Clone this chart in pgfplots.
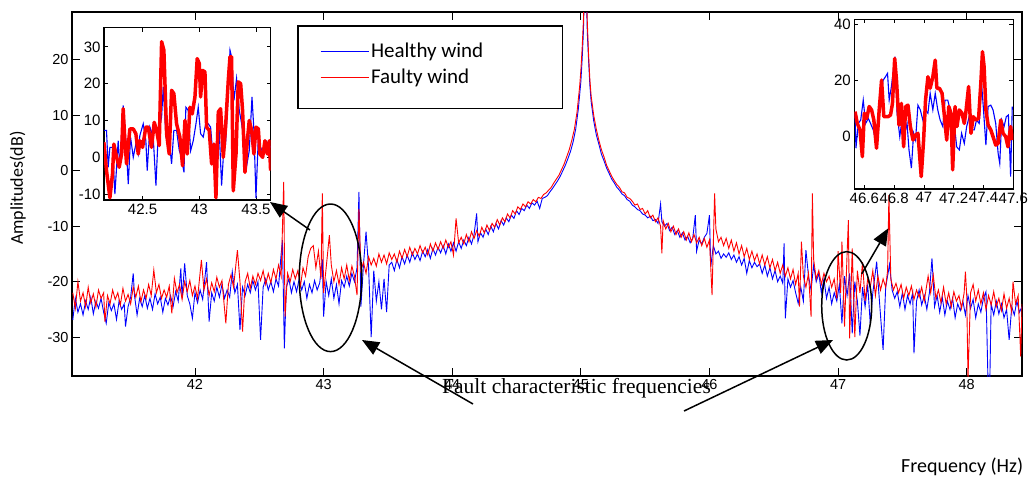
\documentclass[border=0pt]{standalone}
\usepackage{fontspec}
\setmainfont{Liberation Sans}
\newfontfamily\calib{Carlito}
\newfontfamily\timesf{Liberation Serif}
\usepackage{pgfplots}
\usepackage{pgfplotstable}
\pgfplotsset{compat=1.18}
\usetikzlibrary{arrows.meta}

% main spectrum, faulty wind (red)
\pgfplotstableread{
x y
41.05 -22.0
41.07 -24.8
41.09 -20.0
41.11 -23.5
41.13 -22.0
41.15 -24.5
41.17 -21.0
41.19 -23.8
41.21 -22.2
41.23 -24.6
41.25 -21.5
41.27 -23.0
41.29 -22.0
41.30 -27.2
41.32 -22.5
41.34 -24.0
41.36 -21.5
41.38 -23.2
41.40 -22.0
41.42 -24.2
41.44 -21.2
41.46 -23.5
41.48 -22.3
41.50 -24.0
41.52 -21.0
41.54 -22.8
41.56 -20.8
41.58 -23.6
41.60 -21.5
41.62 -23.0
41.64 -20.5
41.66 -22.5
41.68 -17.9
41.70 -22.0
41.72 -20.5
41.74 -23.0
41.76 -21.5
41.78 -22.8
41.80 -20.8
41.82 -25.7
41.84 -19.4
41.86 -22.0
41.88 -20.5
41.90 -23.2
41.92 -20.0
41.94 -21.8
41.96 -19.8
41.98 -22.5
42.00 -20.8
42.02 -23.0
42.05 -16.1
42.07 -21.5
42.09 -19.5
42.11 -22.5
42.13 -20.2
42.15 -21.8
42.17 -19.2
42.19 -21.0
42.21 -19.8
42.24 -27.5
42.26 -20.5
42.28 -18.8
42.30 -21.0
42.33 -14.3
42.35 -20.0
42.37 -29.0
42.39 -20.0
42.41 -18.5
42.43 -21.2
42.45 -19.0
42.47 -20.5
42.49 -18.5
42.51 -19.8
42.53 -18.0
42.55 -20.5
42.57 -18.5
42.59 -20.2
42.61 -17.8
42.63 -19.5
42.65 -17.0
42.67 -19.0
42.69 -2.0
42.70 -26.3
42.72 -18.5
42.74 -20.0
42.76 -17.8
42.78 -19.5
42.80 -18.0
42.82 -20.8
42.84 -17.5
42.86 -19.0
42.88 -15.5
42.90 -14.0
42.92 -13.5
42.94 -17.5
42.96 -14.5
42.98 -19.5
42.99 -4.1
43.00 -22.0
43.02 -17.5
43.045 -11.6
43.06 -17.0
43.08 -20.0
43.10 -18.0
43.12 -20.5
43.14 -17.5
43.16 -19.5
43.18 -17.0
43.20 -19.8
43.22 -17.2
43.24 -19.0
43.26 -22.4
43.275 -6.9
43.29 -18.0
43.31 -16.5
43.33 -18.5
43.35 -15.5
43.37 -17.0
43.39 -15.8
43.41 -17.2
43.43 -15.0
43.45 -16.5
43.47 -15.2
43.49 -16.8
43.51 -14.8
43.53 -16.0
43.55 -15.0
43.57 -16.5
43.59 -14.5
43.61 -15.8
43.63 -14.2
43.65 -15.5
43.67 -13.8
43.69 -15.2
43.71 -14.0
43.73 -15.0
43.75 -13.5
43.77 -14.8
43.79 -13.8
43.81 -15.2
43.83 -13.2
43.85 -14.5
43.87 -13.0
43.89 -14.2
43.91 -12.8
43.93 -14.0
43.95 -12.5
43.97 -13.8
43.99 -12.8
44.01 -15.2
44.03 -8.6
44.05 -13.0
44.07 -12.0
44.09 -13.2
44.11 -11.5
44.13 -12.8
44.15 -11.0
44.17 -12.2
44.19 -10.8
44.21 -11.8
44.23 -10.2
44.25 -11.2
44.27 -9.8
44.29 -10.8
44.31 -9.5
44.33 -10.2
44.35 -8.8
44.37 -9.8
44.39 -8.5
44.41 -9.2
44.43 -7.8
44.45 -8.5
44.47 -7.2
44.49 -7.8
44.51 -6.5
44.53 -7.0
44.55 -6.0
44.57 -6.5
44.59 -5.6
44.61 -6.0
44.63 -5.2
44.65 -5.6
44.67 -4.8
44.69 -5.0
44.71 -4.3
44.73 -4.0
44.75 -3.5
44.77 -3.0
44.79 -2.2
44.81 -1.5
44.83 -0.8
44.85 0.2
44.87 1.2
44.89 2.5
44.91 3.8
44.93 5.5
44.95 7.5
44.97 10.5
44.99 15.0
45.00 18.0
45.01 22.0
45.02 27.0
45.03 35.0
45.04 35.0
45.05 27.0
45.06 21.0
45.07 16.5
45.08 13.5
45.10 10.0
45.12 7.5
45.14 5.5
45.16 3.8
45.18 2.5
45.20 1.0
45.22 0.0
45.24 -1.0
45.26 -1.8
45.28 -2.5
45.30 -3.0
45.32 -3.8
45.34 -4.0
45.36 -4.8
45.38 -5.0
45.40 -5.5
45.42 -6.2
45.44 -6.0
45.46 -7.0
45.48 -6.8
45.50 -7.8
45.52 -7.2
45.54 -8.5
45.56 -8.0
45.58 -9.2
45.60 -8.5
45.62 -10.0
45.63 -14.9
45.64 -9.0
45.66 -10.5
45.68 -9.5
45.70 -11.0
45.72 -10.0
45.74 -11.5
45.76 -10.5
45.78 -12.0
45.80 -11.0
45.82 -12.5
45.84 -11.2
45.86 -12.8
45.88 -11.5
45.90 -13.0
45.92 -12.0
45.94 -13.5
45.96 -12.2
45.98 -13.8
46.00 -12.5
46.02 -22.4
46.04 -4.1
46.05 -10.5
46.07 -12.8
46.09 -12.0
46.11 -13.5
46.13 -12.2
46.15 -14.0
46.17 -12.5
46.19 -14.5
46.21 -13.0
46.23 -15.0
46.25 -13.5
46.27 -15.5
46.29 -14.0
46.31 -16.0
46.33 -14.5
46.35 -16.2
46.37 -15.0
46.39 -16.8
46.41 -15.2
46.43 -17.0
46.45 -15.5
46.47 -17.5
46.49 -16.0
46.51 -18.0
46.53 -16.5
46.55 -18.5
46.57 -17.0
46.59 -19.0
46.61 -17.5
46.63 -19.5
46.65 -17.8
46.67 -20.5
46.69 -18.5
46.70 -24.5
46.715 -12.8
46.73 -19.0
46.75 -21.0
46.77 -18.5
46.79 -26.3
46.80 -4.1
46.81 -16.0
46.83 -19.5
46.85 -18.0
46.87 -20.5
46.89 -18.5
46.91 -20.0
46.93 -19.0
46.95 -21.0
46.97 -19.5
46.99 -23.0
47.00 -14.5
47.02 -22.0
47.03 -12.8
47.05 -28.1
47.07 -15.0
47.08 -8.9
47.09 -30.2
47.11 -14.0
47.13 -30.0
47.15 -18.0
47.17 -22.0
47.19 -16.5
47.21 -23.5
47.23 -19.5
47.25 -21.0
47.27 -18.0
47.29 -22.5
47.31 -19.0
47.33 -21.5
47.35 -19.5
47.37 -21.0
47.385 -18.0
47.395 -4.4
47.41 -19.5
47.43 -21.5
47.45 -20.3
47.47 -22.0
47.49 -20.5
47.51 -23.0
47.53 -21.0
47.55 -22.5
47.57 -20.8
47.59 -23.2
47.61 -21.5
47.63 -22.8
47.65 -21.0
47.67 -23.5
47.70 -19.0
47.72 -22.0
47.74 -18.8
47.76 -23.0
47.78 -21.5
47.80 -23.8
47.82 -21.0
47.84 -24.0
47.86 -22.0
47.88 -24.5
47.90 -21.8
47.92 -23.5
47.94 -22.5
47.96 -24.8
47.98 -22.0
47.99 -18.2
48.00 -22.5
48.01 -37.5
48.03 -22.0
48.05 -20.5
48.07 -23.5
48.09 -21.5
48.11 -24.0
48.13 -22.0
48.15 -25.0
48.17 -22.5
48.19 -24.2
48.21 -21.8
48.23 -24.5
48.25 -23.0
48.27 -25.2
48.29 -22.2
48.31 -24.8
48.33 -23.0
48.35 -25.5
48.36 -20.0
48.38 -24.0
48.40 -22.5
48.42 -33.5
48.43 -24.0
}\faulty

% main spectrum, healthy wind (blue)
\pgfplotstableread{
x y
41.05 -26.9
41.07 -23.0
41.09 -25.5
41.11 -24.0
41.13 -26.0
41.15 -23.5
41.17 -25.0
41.19 -22.8
41.21 -25.8
41.23 -23.5
41.25 -24.8
41.27 -23.0
41.29 -25.5
41.31 -27.5
41.33 -23.8
41.35 -25.2
41.37 -24.0
41.39 -26.8
41.41 -23.5
41.43 -25.0
41.45 -24.0
41.46 -28.1
41.48 -24.5
41.50 -22.8
41.52 -18.5
41.53 -22.5
41.55 -26.0
41.57 -23.0
41.59 -24.5
41.61 -22.5
41.63 -24.8
41.65 -23.0
41.67 -25.0
41.69 -22.2
41.71 -24.0
41.73 -22.8
41.75 -25.5
41.77 -23.0
41.79 -24.2
41.81 -22.5
41.83 -24.5
41.85 -21.8
41.87 -23.5
41.89 -17.6
41.90 -23.0
41.92 -16.7
41.94 -22.5
41.96 -24.0
41.98 -26.6
42.00 -22.0
42.02 -23.8
42.04 -21.5
42.06 -23.2
42.09 -16.5
42.11 -27.2
42.13 -22.0
42.15 -23.5
42.17 -21.0
42.19 -22.8
42.21 -20.5
42.23 -23.0
42.25 -21.5
42.27 -22.8
42.29 -18.2
42.31 -22.0
42.33 -20.5
42.35 -28.7
42.37 -21.0
42.39 -22.5
42.41 -20.5
42.43 -22.0
42.45 -19.8
42.47 -21.5
42.49 -20.0
42.51 -30.5
42.53 -21.0
42.55 -19.5
42.57 -21.5
42.59 -20.0
42.61 -21.8
42.63 -19.5
42.65 -20.8
42.67 -15.0
42.68 -12.5
42.695 -32.0
42.71 -21.0
42.73 -19.5
42.75 -22.0
42.77 -20.0
42.79 -21.8
42.81 -19.5
42.83 -21.5
42.85 -20.0
42.87 -23.0
42.89 -20.5
42.91 -22.0
42.93 -19.8
42.95 -21.5
42.97 -20.2
42.99 -16.0
43.00 -26.3
43.02 -20.0
43.04 -22.5
43.06 -19.5
43.08 -23.0
43.10 -20.5
43.12 -24.0
43.14 -19.8
43.16 -21.0
43.18 -19.0
43.20 -20.8
43.22 -18.5
43.24 -20.0
43.26 -17.5
43.275 -3.8
43.29 -24.5
43.31 -17.0
43.33 -11.0
43.35 -17.5
43.37 -30.0
43.39 -18.0
43.41 -23.5
43.43 -20.0
43.45 -25.0
43.47 -19.5
43.49 -25.5
43.51 -17.0
43.53 -16.5
43.55 -18.0
43.57 -16.0
43.59 -17.5
43.61 -15.5
43.63 -16.8
43.65 -15.2
43.67 -16.5
43.69 -14.8
43.71 -16.0
43.73 -15.0
43.75 -16.2
43.77 -14.5
43.79 -15.5
43.81 -14.2
43.83 -15.8
43.85 -14.0
43.87 -15.2
43.89 -13.8
43.91 -14.8
43.93 -13.5
43.95 -15.0
43.97 -13.2
43.99 -14.5
44.01 -13.0
44.03 -14.5
44.05 -12.8
44.07 -14.0
44.09 -12.5
44.11 -13.5
44.13 -12.0
44.15 -13.2
44.17 -11.5
44.19 -7.7
44.20 -12.8
44.22 -11.2
44.24 -12.0
44.26 -10.5
44.28 -11.5
44.30 -10.0
44.32 -11.0
44.34 -9.5
44.36 -10.5
44.38 -9.0
44.40 -9.8
44.42 -8.5
44.44 -9.2
44.46 -8.0
44.48 -8.6
44.50 -7.2
44.52 -7.9
44.54 -6.8
44.56 -7.2
44.58 -6.2
44.60 -6.8
44.62 -5.8
44.64 -6.2
44.66 -5.5
44.68 -6.8
44.70 -5.0
44.72 -4.8
44.74 -4.5
44.76 -3.8
44.78 -3.2
44.80 -2.5
44.82 -1.8
44.84 -1.0
44.86 0.0
44.88 1.0
44.90 2.2
44.92 3.5
44.94 5.2
44.96 7.5
44.98 11.0
45.00 16.0
45.01 20.0
45.02 25.0
45.03 35.0
45.04 35.0
45.05 25.0
45.06 20.0
45.07 15.5
45.08 12.5
45.10 9.0
45.12 6.5
45.14 4.8
45.16 3.0
45.18 1.8
45.20 0.5
45.22 -0.5
45.24 -1.5
45.26 -2.2
45.28 -3.0
45.30 -3.5
45.32 -4.2
45.34 -4.5
45.36 -5.2
45.38 -5.5
45.40 -6.2
45.42 -6.5
45.44 -7.0
45.46 -7.2
45.48 -7.8
45.50 -8.0
45.52 -8.5
45.54 -8.2
45.56 -9.0
45.58 -8.8
45.60 -9.5
45.62 -6.0
45.63 -9.2
45.65 -10.0
45.67 -9.5
45.69 -10.8
45.71 -10.2
45.73 -11.5
45.75 -10.8
45.77 -12.0
45.79 -11.2
45.81 -12.5
45.83 -11.8
45.85 -13.0
45.87 -12.2
45.89 -8.0
45.90 -14.5
45.92 -12.5
45.94 -13.2
45.96 -12.0
45.98 -11.3
46.00 -8.0
46.01 -17.3
46.03 -13.5
46.05 -15.0
46.07 -14.5
46.09 -15.8
46.11 -15.0
46.13 -15.6
46.15 -14.8
46.17 -16.0
46.19 -15.2
46.21 -16.5
46.23 -15.5
46.25 -17.0
46.27 -15.8
46.29 -18.5
46.31 -16.2
46.33 -17.5
46.35 -16.5
46.37 -17.3
46.39 -16.8
46.41 -18.5
46.43 -17.0
46.45 -19.0
46.47 -17.5
46.49 -19.5
46.51 -18.0
46.53 -20.0
46.55 -19.0
46.57 -20.3
46.58 -13.1
46.59 -26.6
46.61 -19.5
46.63 -21.0
46.65 -19.8
46.67 -22.0
46.69 -23.9
46.71 -21.0
46.73 -23.5
46.75 -14.3
46.77 -19.0
46.79 -21.5
46.81 -17.0
46.83 -20.0
46.85 -18.5
46.87 -22.0
46.89 -19.5
46.91 -23.0
46.93 -21.0
46.95 -24.0
46.97 -22.0
46.99 -23.5
47.01 -20.5
47.03 -27.5
47.05 -19.0
47.07 -22.5
47.09 -18.5
47.11 -29.3
47.13 -20.0
47.15 -23.5
47.17 -29.7
47.19 -21.0
47.21 -24.5
47.23 -20.5
47.25 -27.5
47.27 -22.0
47.30 -16.4
47.32 -23.0
47.35 -32.3
47.37 -21.0
47.40 -16.9
47.42 -21.5
47.44 -23.0
47.46 -21.8
47.48 -24.5
47.50 -22.0
47.52 -25.0
47.54 -22.5
47.56 -24.0
47.58 -22.0
47.59 -32.9
47.61 -23.5
47.63 -21.5
47.65 -24.2
47.67 -22.5
47.69 -25.0
47.71 -22.0
47.73 -15.8
47.75 -24.5
47.77 -22.5
47.79 -25.5
47.81 -22.8
47.83 -26.0
47.85 -23.5
47.87 -25.0
47.89 -23.0
47.91 -26.5
47.93 -24.0
47.95 -25.2
47.97 -23.5
47.99 -26.0
48.01 -22.5
48.03 -24.8
48.05 -23.2
48.07 -26.5
48.09 -24.0
48.11 -25.5
48.13 -23.0
48.15 -21.8
48.165 -37.5
48.18 -37.5
48.19 -24.0
48.21 -26.0
48.23 -23.5
48.25 -25.8
48.27 -24.0
48.29 -26.5
48.31 -25.0
48.33 -30.5
48.35 -24.5
48.37 -26.0
48.39 -23.5
48.41 -25.5
48.43 -24.5
}\healthy

% zoom 42.2-43.6 Hz
\pgfplotstableread{
x y
42.159 4.1
42.182 -3.6
42.212 -11.0
42.235 -4.5
42.247 3.6
42.271 0.0
42.294 -2.7
42.315 0.9
42.329 13.2
42.344 4.5
42.359 -1.8
42.388 7.7
42.418 7.7
42.441 6.4
42.462 0.9
42.476 4.5
42.500 2.7
42.529 8.2
42.550 8.2
42.579 2.7
42.603 9.5
42.624 7.3
42.647 3.2
42.668 31.4
42.688 29.1
42.712 6.4
42.735 0.9
42.756 18.2
42.776 17.3
42.800 9.1
42.829 5.5
42.853 -2.3
42.874 10.0
42.894 0.9
42.918 13.6
42.938 11.8
42.962 16.4
42.982 26.8
43.000 25.5
43.012 16.4
43.029 23.6
43.050 23.2
43.065 8.2
43.088 7.3
43.109 -1.8
43.129 3.6
43.147 -11.0
43.168 12.3
43.188 13.2
43.212 0.0
43.232 8.2
43.256 20.9
43.271 27.3
43.285 27.3
43.300 -9.1
43.324 0.9
43.344 20.5
43.365 20.0
43.382 12.7
43.403 -4.1
43.424 4.5
43.441 10.0
43.462 7.3
43.482 0.9
43.500 8.2
43.521 7.7
43.535 0.9
43.559 0.0
43.579 4.5
43.600 0.9
43.618 4.5
43.629 -3.6
}\faultyA
\pgfplotstableread{
x y
42.159 7.3
42.182 7.3
42.197 -2.7
42.212 2.7
42.235 2.7
42.256 -10.0
42.271 -2.7
42.285 4.5
42.300 -2.7
42.329 14.1
42.353 4.5
42.374 -7.3
42.394 5.5
42.418 0.0
42.441 3.6
42.462 0.9
42.476 5.9
42.506 9.1
42.529 4.5
42.541 -3.6
42.565 8.2
42.594 5.5
42.618 -7.7
42.638 6.4
42.668 10.9
42.682 19.1
42.706 5.9
42.726 7.3
42.756 -1.8
42.776 7.3
42.800 7.3
42.824 1.8
42.844 0.0
42.865 -4.1
42.882 13.6
42.903 12.7
42.924 1.8
42.947 4.5
42.971 9.1
42.991 13.6
43.012 6.4
43.035 5.5
43.059 9.5
43.079 9.1
43.100 8.2
43.124 -0.9
43.147 1.8
43.176 7.3
43.197 -7.7
43.212 0.0
43.232 3.6
43.256 18.2
43.271 29.1
43.285 27.3
43.306 15.5
43.329 21.4
43.353 12.7
43.374 9.1
43.394 4.5
43.418 -2.3
43.441 1.8
43.465 16.4
43.482 7.3
43.500 -11.0
43.521 5.5
43.541 2.7
43.565 0.9
43.588 4.5
43.609 3.6
43.629 2.7
}\healthyA

% zoom 46.5-47.6 Hz
\pgfplotstableread{
x y
46.538 8.9
46.553 4.7
46.571 2.4
46.587 -7.1
46.600 8.3
46.616 6.5
46.633 10.7
46.649 9.5
46.664 5.9
46.682 -4.1
46.700 9.5
46.716 20.1
46.731 7.1
46.744 7.1
46.760 7.1
46.776 7.7
46.789 11.8
46.804 27.8
46.816 20.1
46.833 4.1
46.849 11.8
46.864 -3.6
46.878 10.7
46.893 11.2
46.909 3.6
46.927 -1.2
46.944 0.6
46.960 1.2
46.982 -14.2
46.998 -1.2
47.011 13.0
47.027 21.3
47.042 17.2
47.060 21.3
47.076 27.2
47.087 17.2
47.104 17.2
47.122 15.4
47.138 7.1
47.153 -1.2
47.167 10.7
47.182 8.3
47.193 -11.8
47.209 10.7
47.222 3.6
47.238 9.5
47.256 8.3
47.271 4.7
47.282 8.9
47.300 17.8
47.316 1.2
47.331 7.1
47.349 5.9
47.367 6.5
47.382 18.9
47.393 30.2
47.404 24.9
47.416 9.5
47.431 4.1
47.449 2.4
47.464 0.0
47.482 -3.0
47.498 -2.4
47.516 5.9
47.531 1.2
47.549 0.0
47.564 -3.6
47.582 3.6
47.593 -1.2
}\faultyB
\pgfplotstableread{
x y
46.538 8.3
46.544 -4.1
46.560 4.7
46.576 5.9
46.593 13.0
46.609 4.7
46.627 6.5
46.642 4.7
46.660 2.4
46.676 -1.2
46.693 5.9
46.709 15.4
46.727 20.1
46.742 21.3
46.756 22.5
46.767 13.0
46.782 17.8
46.798 24.9
46.807 28.4
46.820 8.3
46.838 0.0
46.853 5.9
46.871 1.2
46.887 4.7
46.900 -4.7
46.916 -11.2
46.931 1.2
46.944 -1.2
46.960 11.2
46.976 9.5
46.993 5.9
47.009 9.5
47.027 8.3
47.042 15.4
47.060 9.5
47.076 15.4
47.093 9.5
47.109 5.9
47.127 3.6
47.142 13.0
47.160 13.0
47.176 9.5
47.189 1.2
47.204 4.7
47.220 -3.6
47.238 -4.7
47.253 1.2
47.271 -2.4
47.287 3.6
47.304 7.1
47.322 2.4
47.338 2.4
47.353 5.9
47.371 4.7
47.387 18.9
47.400 9.5
47.416 -3.0
47.431 10.7
47.449 11.2
47.464 9.5
47.482 4.7
47.498 -5.9
47.509 -9.5
47.522 5.9
47.538 3.6
47.553 7.1
47.567 7.7
47.582 -14.2
47.593 10.7
}\healthyB

\pgfplotsset{
  insetstyle/.style={
    scale only axis, axis background/.style={fill=white},
    tick align=inside, major tick length=4pt,
    tick style={black, line width=0.8pt},
    axis line style={black, line width=1.2pt},
    ticklabel style={font=\fontsize{15}{17}\selectfont},
    /pgf/number format/assume math mode=true}}

\begin{document}
\begin{tikzpicture}
\path[use as bounding box] (0pt,0pt) rectangle (1032pt,-480pt);

\begin{axis}[
  at={(72pt,-376pt)}, anchor=south west,
  width=950pt, height=364pt, scale only axis,
  xmin=41.044, xmax=48.43, ymin=-37, ymax=28.6,
  xtick={42,43,44,45,46,47,48}, ytick={-30,-20,-10,0,10,20},
  tick align=inside, major tick length=8pt,
  tick style={black, line width=0.8pt},
  axis line style={black, line width=1.6pt},
  ticklabel style={font=\fontsize{14.5}{16}\selectfont},
  /pgf/number format/assume math mode=true,
  xlabel={\calib Frequency (Hz)},
  ylabel={\calib Amplitudes(dB)},
  every axis x label/.style={at={(axis description cs:0.937,-0.25)}, anchor=center, font=\fontsize{20}{22}\selectfont},
  every axis y label/.style={at={(axis description cs:-0.057,0.516)}, rotate=90, anchor=center, font=\fontsize{18}{20}\selectfont},
  legend style={draw=none, fill=none, at={(axis description cs:0.261,0.92)}, anchor=north west,
    inner sep=0pt, row sep=6pt, font=\calib\fontsize{21}{23}\selectfont},
  legend cell align=left,
  legend image code/.code={\draw[#1] (0pt,0pt) -- (48pt,0pt);},
]
\addplot[blue, line width=0.9pt] table[x=x, y=y] {\healthy};
\addlegendentry{Healthy wind}
\addplot[red, line width=0.9pt] table[x=x, y=y] {\faulty};
\addlegendentry{Faulty wind}
\end{axis}

\draw[black, line width=1.5pt] (298pt,-26pt) rectangle (562.7pt,-108.7pt);

\begin{axis}[insetstyle,
  at={(104pt,-200pt)}, anchor=south west, width=166.7pt, height=172.3pt,
  xmin=42.16, xmax=43.63, ymin=-11.6, ymax=35.2,
  xtick={42.5,43,43.5}, ytick={-10,0,10,20,30}]
\addplot[blue, line width=1.1pt] table[x=x, y=y] {\healthyA};
\addplot[red, line width=3.5pt, line join=round] table[x=x, y=y] {\faultyA};
\end{axis}

\begin{axis}[insetstyle,
  at={(854.3pt,-189pt)}, anchor=south west, width=159pt, height=169.7pt,
  xmin=46.533, xmax=47.6, ymin=-18.6, ymax=41.7,
  xtick={46.6,46.8,47,47.2,47.4,47.6}, ytick={0,20,40}]
\addplot[blue, line width=1.1pt] table[x=x, y=y] {\healthyB};
\addplot[red, line width=3.5pt, line join=round] table[x=x, y=y] {\faultyB};
\end{axis}

% annotations
\draw[black, line width=1.5pt] (330.5pt,-277.8pt) ellipse [x radius=31.2pt, y radius=73.8pt];
\draw[black, line width=1.5pt] (846.7pt,-305.8pt) ellipse [x radius=25pt, y radius=54.2pt];
\begin{scope}[line width=1.5pt, -{Triangle[length=17pt,width=14pt]}]
\draw (310pt,-230pt) -- (270pt,-202pt);
\draw (861.7pt,-274pt) -- (888.3pt,-228.3pt);
\draw (473pt,-404pt) -- (362pt,-340pt);
\draw (684pt,-411pt) -- (833pt,-340pt);
\end{scope}
\node[anchor=base, inner sep=0pt, font=\timesf\fontsize{21.5}{23}\selectfont] at (576.5pt,-393pt) {Fault characteristic frequencies};
\end{tikzpicture}
\end{document}
